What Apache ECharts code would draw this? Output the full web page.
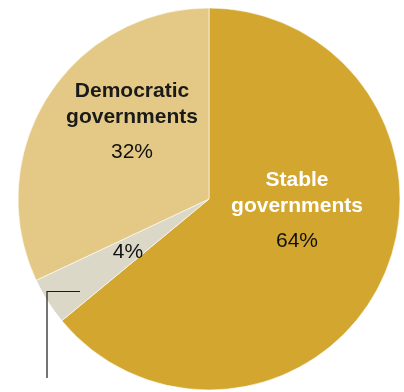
<!DOCTYPE html>
<html>
<head>
<meta charset="utf-8">
<script src="https://cdn.jsdelivr.net/npm/echarts@6/dist/echarts.min.js"></script>
<style>
  html, body { margin: 0; padding: 0; background: #fff; }
  #chart { width: 404px; height: 392px; }
</style>
</head>
<body>
<div id="chart"></div>
<script>
// Share of responses, clockwise from 12 o'clock
const categories = ['Stable\ngovernments', '', 'Democratic\ngovernments'];
const shares = [64, 4, 32];
const colors = ['#D3A72F', '#DBD8C8', '#E3C985'];
const titleColors = ['#ffffff', '#1a1a1a', '#1a1a1a'];
// Label anchor points (px) for each slice
const labelSpots = [[297, 210], [128, 252], [132, 121]];

const chart = echarts.init(document.getElementById('chart'), null, { renderer: 'canvas' });

const FONT = '"Liberation Sans", Arial, sans-serif';

chart.setOption({
  animation: false,
  series: [{
    type: 'pie',
    center: [209, 199],
    radius: [0, 191],
    startAngle: 90,
    clockwise: true,
    silent: true,
    itemStyle: { borderColor: '#ffffff', borderWidth: 0.6 },
    data: shares.map((v, i) => ({
      name: categories[i],
      value: v,
      itemStyle: { color: colors[i] },
      label: {
        rich: {
          t: { fontFamily: FONT, fontWeight: 'bold', fontSize: 21, lineHeight: 26, color: titleColors[i], align: 'center' },
          gap: { fontSize: 10, lineHeight: 10 },
          p: { fontFamily: FONT, fontSize: 21, lineHeight: 24, color: '#111111', align: 'center' }
        }
      }
    })),
    label: {
      show: true,
      position: 'inside',
      formatter: (p) => {
        const pct = '{p|' + p.value + '%}';
        if (!p.name) return pct;
        const title = p.name.split('\n').map(s => '{t|' + s + '}').join('\n');
        return title + '\n{gap|}\n' + pct;
      }
    },
    labelLine: { show: false },
    labelLayout: (params) => {
      const spot = labelSpots[params.dataIndex];
      return { x: spot[0], y: spot[1], align: 'center', verticalAlign: 'middle' };
    }
  }],
  graphic: [{
    type: 'polyline',
    z: 100,
    shape: { points: [[47, 378], [47, 291.5], [80, 291.5]] },
    style: { stroke: '#1a1a1a', lineWidth: 1.2, fill: null }
  }]
});
</script>
</body>
</html>
